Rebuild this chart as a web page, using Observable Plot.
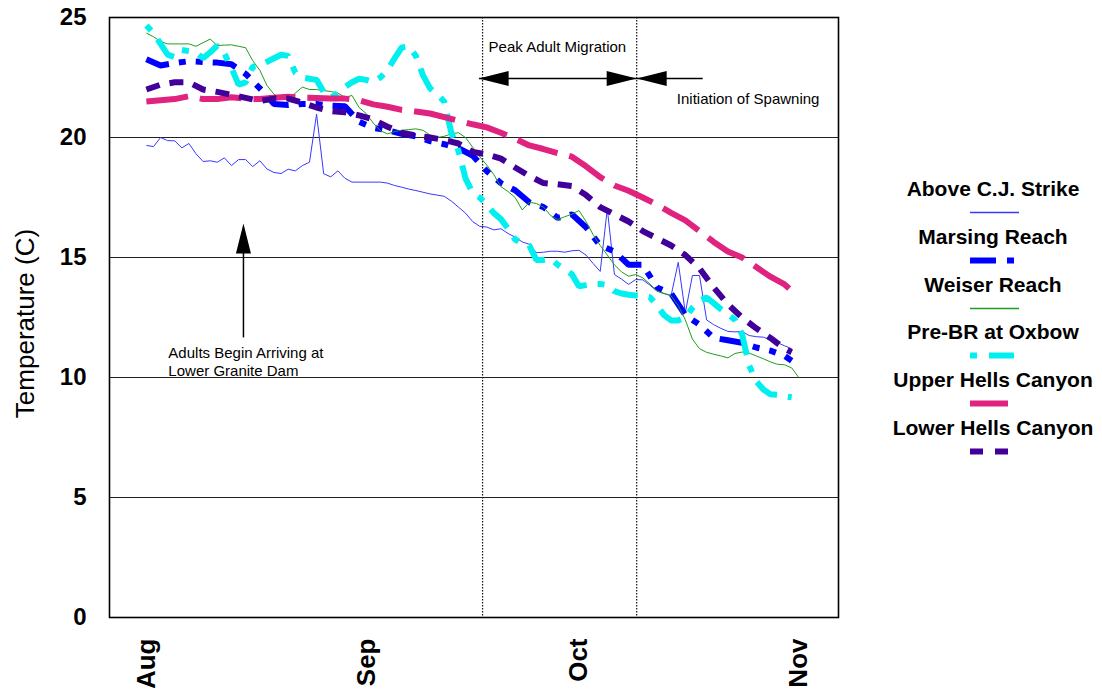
<!DOCTYPE html>
<html>
<head>
<meta charset="utf-8">
<script src="https://cdn.jsdelivr.net/npm/d3@7"></script>
<script src="https://cdn.jsdelivr.net/npm/@observablehq/plot@0.6"></script>
<style>
  body { margin: 0; background: white; font-family: "Liberation Sans", Arial, sans-serif; }
  #wrap { position: relative; width: 1102px; height: 700px; overflow: hidden; }
  #legend { position: absolute; left: 884px; top: 177px; width: 218px; }
  .item { position: relative; height: 47.8px; }
  .item .lab { text-align: center; font-weight: bold; font-size: 21px; line-height: 24px; color: #000; white-space: nowrap; }
  .item svg { position: absolute; left: 86px; top: 31px; }
</style>
</head>
<body>
<div id="wrap"><div id="legend"></div></div>
<script>
// ---- x categories: day index from Aug 1 ----
const dailyDays = [0,1,2,3,4,5,6,7,8,9,10,11,12,13,14,15,16,17,18,19,20,21,22,23,24,25,26,27,28,29,30,31,32,33,34,35,36,37,38,39,40,41,42,43,44,45,46,47,48,49,50,51,52,53,54,55,56,57,58,59,60,61,62,63,64,65,66,67,68,69,70,71,72,73,74,75,76,77,78,79,80,81,82,83,84,85,86,87,88,89,90,91,92];
const evenDays = [0,2,4,6,8,10,12,14,16,18,20,22,24,26,28,30,32,34,36,38,40,42,44,46,48,50,52,54,56,58,60,62,64,66,68,70,72,74,76,78,80,82,84,86,88,90,91];
const monthTicks = [0, 31, 61, 92];
const monthLabels = ["Aug", "Sep", "Oct", "Nov"];
const tempTicks = [0, 5, 10, 15, 20, 25];
const gridTemps = [5, 10, 15, 20];
const yTitle = "Temperature (C)";

// ---- series ----
const seriesNames = ["Above C.J. Strike", "Marsing Reach", "Weiser Reach", "Pre-BR at Oxbow", "Upper Hells Canyon", "Lower Hells Canyon"];

const cjStrike = [19.67,19.62,20.0,19.87,19.86,19.57,19.75,19.32,19.0,19.03,
 18.97,19.15,18.83,19.08,19.08,18.79,19.03,18.69,18.54,18.5,
 18.68,18.61,18.83,18.97,20.97,18.49,18.36,18.61,18.3,18.14,
 18.14,18.14,18.14,18.14,18.1,18.0,17.93,17.85,17.79,17.72,
 17.65,17.6,17.55,17.35,17.1,16.85,16.5,16.3,16.27,16.15,
 16.2,16.0,15.85,15.65,15.55,15.2,15.22,15.26,15.26,15.22,
 15.28,15.3,15.1,14.75,14.42,17.03,14.29,14.1,13.88,14.08,
 14.07,13.85,13.6,13.5,13.42,14.8,12.7,14.25,14.25,12.4,
 12.2,12.05,11.92,11.9,11.92,11.75,11.7,11.68,11.58,11.45,
 11.32,11.2];

const marsing = [23.26,23.0,23.1,23.18,23.15,23.12,23.05,22.65,22.05,21.4,
 21.35,21.4,21.4,21.33,21.3,20.65,20.4,20.3,20.15,20.05,
 19.85,19.72,19.55,19.25,18.6,18.1,17.8,17.3,17.1,16.65,
 16.8,16.26,15.5,15.25,14.7,14.7,13.75,13.5,12.6,12.2,
 11.65,11.55,11.45,11.25,11.12,10.9,10.7];

const weiser = [24.35,24.2,24.0,23.9,23.9,23.9,23.9,23.8,23.95,24.1,
 23.83,23.85,23.86,23.8,23.74,23.2,22.8,22.17,21.8,21.65,
 21.6,21.85,22.1,22.0,22.0,21.95,21.92,21.85,21.68,21.75,
 21.25,21.0,20.6,20.28,20.15,20.25,20.3,20.33,20.36,20.3,
 20.1,20.0,20.05,20.15,20.2,20.0,19.6,19.2,18.85,18.45,
 17.95,17.75,17.5,16.98,17.3,17.25,17.1,16.75,16.58,16.7,
 16.8,16.96,16.5,15.95,15.5,15.1,14.7,14.4,14.22,14.29,
 14.15,13.9,13.6,13.5,13.4,13.0,12.4,11.6,11.2,11.05,
 10.97,10.9,10.82,11.0,11.06,11.02,10.9,10.78,10.65,10.55,
 10.53,10.4,10.0];

const preBR = [24.67,24.35,23.9,23.45,23.35,23.65,23.6,23.55,23.3,23.55,
 23.83,23.5,22.9,22.2,22.3,22.95,23.0,23.15,23.3,23.45,
 23.4,22.7,22.5,22.45,22.4,21.9,21.65,21.85,22.1,22.3,
 22.45,22.4,22.3,22.5,22.8,23.3,23.75,23.8,23.4,22.6,
 22.05,21.8,21.5,20.2,19.45,18.3,17.7,17.5,17.2,16.85,
 16.6,16.2,15.75,15.6,15.5,14.9,14.9,14.95,14.7,14.5,
 14.3,13.8,13.85,13.9,13.9,13.85,13.6,13.5,13.45,13.42,
 13.4,13.35,13.0,12.6,12.38,12.38,12.5,12.9,13.2,13.33,
 13.1,12.85,12.65,12.4,11.8,10.5,9.85,9.5,9.3,9.28,
 9.22,9.18];

const upperHC = [21.5,21.55,21.6,21.72,21.6,21.6,21.68,21.62,21.6,21.66,
 21.7,21.66,21.65,21.63,21.62,21.55,21.38,21.28,21.15,21.08,
 21.0,20.85,20.7,20.55,20.42,20.2,19.95,19.67,19.52,19.35,
 19.2,18.8,18.35,18.0,17.78,17.5,17.2,16.86,16.55,16.1,
 15.65,15.25,15.0,14.6,14.2,13.88,13.62];

const lowerHC = [22.0,22.2,22.3,22.3,22.0,21.9,21.78,21.65,21.52,21.62,
 21.62,21.45,21.25,21.1,21.05,20.92,20.75,20.45,20.2,20.08,
 20.0,19.9,19.75,19.4,19.3,19.12,18.75,18.4,18.1,18.05,
 17.98,17.6,17.1,16.8,16.5,16.1,15.8,15.5,15.1,14.55,
 13.75,13.05,12.5,12.05,11.65,11.2,11.05];

// ---- annotations ----
const phaseDays = [47.41, 69.14];
const noteText = ["Peak Adult Migration", "Initiation of Spawning", "Adults Begin Arriving at\nLower Granite Dam"];
const noteDay = [48.26, 74.8, 3.1];
const noteTemp = [24.125, 21.96, 11.38];
const arrowSegs = [
  {x1: 46.9, x2: 78.45, y1: 22.46, y2: 22.46},
  {x1: 13.69, x2: 13.69, y1: 11.67, y2: 15.5}
];
const headsLeft = [{day: 46.85, temp: 22.46}, {day: 69.14, temp: 22.46}];
const headsRight = [{day: 69.14, temp: 22.46}];
const headsUp = [{day: 13.69, temp: 16.42}];

// ---- styles ----
const styles = [
  {color: "#3838FF", width: 1, dash: null},
  {color: "#0000FF", width: 6, dash: "24,10,7,10,7,10"},
  {color: "#1E9E1E", width: 1, dash: null},
  {color: "#00F0F0", width: 6, dash: "7,11,25,11"},
  {color: "#E0237E", width: 6, dash: "42,12"},
  {color: "#400099", width: 6, dash: "14,10"}
];
const legendDash = [null, "26,11,8,10", null, "7,12,25,12", null, "13,12"];
const swatchLen = [49, 44, 49, 44, 38, 38];

const rows = (days, vals) => vals.map((v, i) => ({day: days[i], temp: v}));
const seriesData = [
  rows(dailyDays, cjStrike),
  rows(evenDays, marsing),
  rows(dailyDays, weiser),
  rows(dailyDays, preBR),
  rows(evenDays, upperHC),
  rows(evenDays, lowerHC)
];

const headUp = {draw(c) { c.moveTo(0, 0); c.lineTo(7.5, 30); c.lineTo(-7.5, 30); c.closePath(); }};
const headLeft = {draw(c) { c.moveTo(0, 0); c.lineTo(30, -7.5); c.lineTo(30, 7.5); c.closePath(); }};
const headRight = {draw(c) { c.moveTo(0, 0); c.lineTo(-30, -7.5); c.lineTo(-30, 7.5); c.closePath(); }};

const font = "Liberation Sans, Arial, sans-serif";

const chart = Plot.plot({
  width: 1102,
  height: 700,
  marginLeft: 109,
  marginRight: 264,
  marginTop: 17,
  marginBottom: 83,
  style: {fontFamily: font, background: "white", color: "black", overflow: "visible"},
  x: {domain: [-5.2, 97.6]},
  y: {domain: [0, 25]},
  marks: [
    Plot.ruleY(gridTemps, {stroke: "#222", strokeWidth: 1}),
    Plot.ruleX(phaseDays, {stroke: "#111", strokeWidth: 1.2, strokeDasharray: "1.5,1.5"}),
    ...seriesData.map((d, i) => Plot.line(d, {
      x: "day", y: "temp",
      stroke: styles[i].color,
      strokeWidth: styles[i].width,
      strokeDasharray: styles[i].dash,
      strokeLinecap: "butt",
      strokeLinejoin: "miter"
    })),
    Plot.link(arrowSegs, {x1: "x1", x2: "x2", y1: "y1", y2: "y2", stroke: "black", strokeWidth: 1.5}),
    Plot.dot(headsLeft, {x: "day", y: "temp", symbol: headLeft, fill: "black", stroke: "none", r: 5}),
    Plot.dot(headsRight, {x: "day", y: "temp", symbol: headRight, fill: "black", stroke: "none", r: 5}),
    Plot.dot(headsUp, {x: "day", y: "temp", symbol: headUp, fill: "black", stroke: "none", r: 5}),
    Plot.text(noteText.map((t, i) => ({t, day: noteDay[i], temp: noteTemp[i]})), {
      x: "day", y: "temp", text: "t", textAnchor: "start", lineAnchor: "top",
      fontSize: 15, lineHeight: 1.25, fill: "black"
    }),
    Plot.axisY({ticks: tempTicks, tickSize: 0, tickPadding: 23, fontSize: 24, fontWeight: "bold", label: null}),
    Plot.axisX({ticks: monthTicks, tickFormat: d => monthLabels[monthTicks.indexOf(d)], tickRotate: -90,
      tickSize: 0, tickPadding: 21, fontSize: 26, fontWeight: "bold", label: null}),
    Plot.text([yTitle], {frameAnchor: "left", dx: -84, dy: 6, rotate: -90, fontSize: 26, textAnchor: "middle", fill: "black"}),
    Plot.frame({stroke: "black", strokeWidth: 1.6})
  ]
});

document.getElementById("wrap").prepend(chart);

// ---- legend ----
const legend = document.getElementById("legend");
seriesNames.forEach((name, i) => {
  const item = document.createElement("div");
  item.className = "item";
  const lab = document.createElement("div");
  lab.className = "lab";
  lab.textContent = name;
  item.appendChild(lab);
  const svg = d3.create("svg").attr("width", 52).attr("height", 9);
  svg.append("line")
    .attr("x1", 0).attr("x2", swatchLen[i]).attr("y1", 4.5).attr("y2", 4.5)
    .attr("stroke", styles[i].color)
    .attr("stroke-width", styles[i].width === 1 ? 1.5 : 6)
    .attr("stroke-dasharray", legendDash[i]);
  item.appendChild(svg.node());
  legend.appendChild(item);
});
</script>
</body>
</html>
